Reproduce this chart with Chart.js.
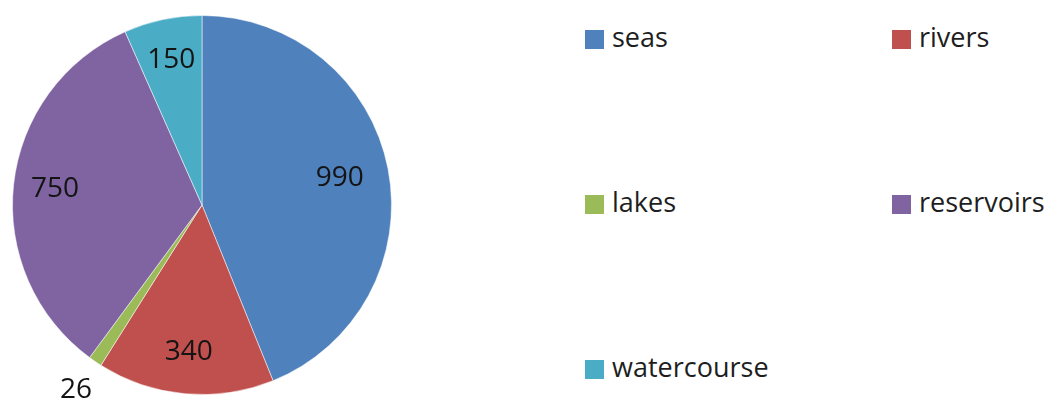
<!DOCTYPE html>
<html>
<head>
<meta charset="utf-8">
<script src="https://cdn.jsdelivr.net/npm/chart.js@4"></script>
<style>
  html, body { margin: 0; padding: 0; background: #fff; }
  #wrap { position: relative; width: 1050px; height: 401px; overflow: hidden; }
  #pieCanvas { position: absolute; left: 0; top: 0; }
  .leg { position: absolute; font-family: "Open Sans", sans-serif; font-size: 27px; color: #1e1e1e;
         line-height: 30px; white-space: nowrap; }
  .leg span.box { position: absolute; left: 0; top: 5px; width: 19px; height: 19px; }
  .leg span.txt { position: absolute; left: 27px; top: -3px; }
</style>
</head>
<body>
<div id="wrap">
  <canvas id="pieCanvas" width="404" height="401"></canvas>
</div>
<script>
const categories = ["seas", "rivers", "lakes", "reservoirs", "watercourse"];
const values = [990, 340, 26, 750, 150];
const colors = ["#4F81BD", "#C0504D", "#9BBB59", "#8064A2", "#4BACC6"];

// legend spots (two columns, three rows)
const legendSpots = [[585, 25], [892, 25], [585, 190], [892, 190], [585, 355]];

const wrap = document.getElementById("wrap");
categories.forEach((name, i) => {
  const d = document.createElement("div");
  d.className = "leg";
  d.style.left = legendSpots[i][0] + "px";
  d.style.top = legendSpots[i][1] + "px";
  d.innerHTML = '<span class="box" style="background:' + colors[i] + '"></span><span class="txt">' + name + "</span>";
  wrap.appendChild(d);
});

// draw the value of each slice, small slices go outside
const sliceLabels = {
  id: "sliceLabels",
  afterDatasetsDraw(chart) {
    const ctx = chart.ctx;
    const meta = chart.getDatasetMeta(0);
    ctx.save();
    ctx.font = '28px "Open Sans", sans-serif';
    ctx.fillStyle = "#141414";
    ctx.textAlign = "center";
    ctx.textBaseline = "middle";
    meta.data.forEach((arc, i) => {
      const mid = (arc.startAngle + arc.endAngle) / 2;
      const span = arc.endAngle - arc.startAngle;
      let f = 0.78;
      if (span < 0.2) f = 1.18;
      else if (span > 2.5) f = 0.74;
      const r = arc.outerRadius * f;
      const x = arc.x + Math.cos(mid) * r;
      const y = arc.y + Math.sin(mid) * r;
      ctx.fillText(String(values[i]), x, y);
    });
    ctx.restore();
  }
};

new Chart(document.getElementById("pieCanvas").getContext("2d"), {
  type: "pie",
  data: {
    labels: categories,
    datasets: [{
      data: values,
      backgroundColor: colors,
      borderColor: "rgba(255,255,255,0.5)",
      borderWidth: 1
    }]
  },
  options: {
    responsive: false,
    animation: false,
    layout: { padding: { top: 15, bottom: 6, left: 12, right: 12 } },
    plugins: {
      legend: { display: false },
      tooltip: { enabled: false }
    }
  },
  plugins: [sliceLabels]
});
</script>
</body>
</html>
